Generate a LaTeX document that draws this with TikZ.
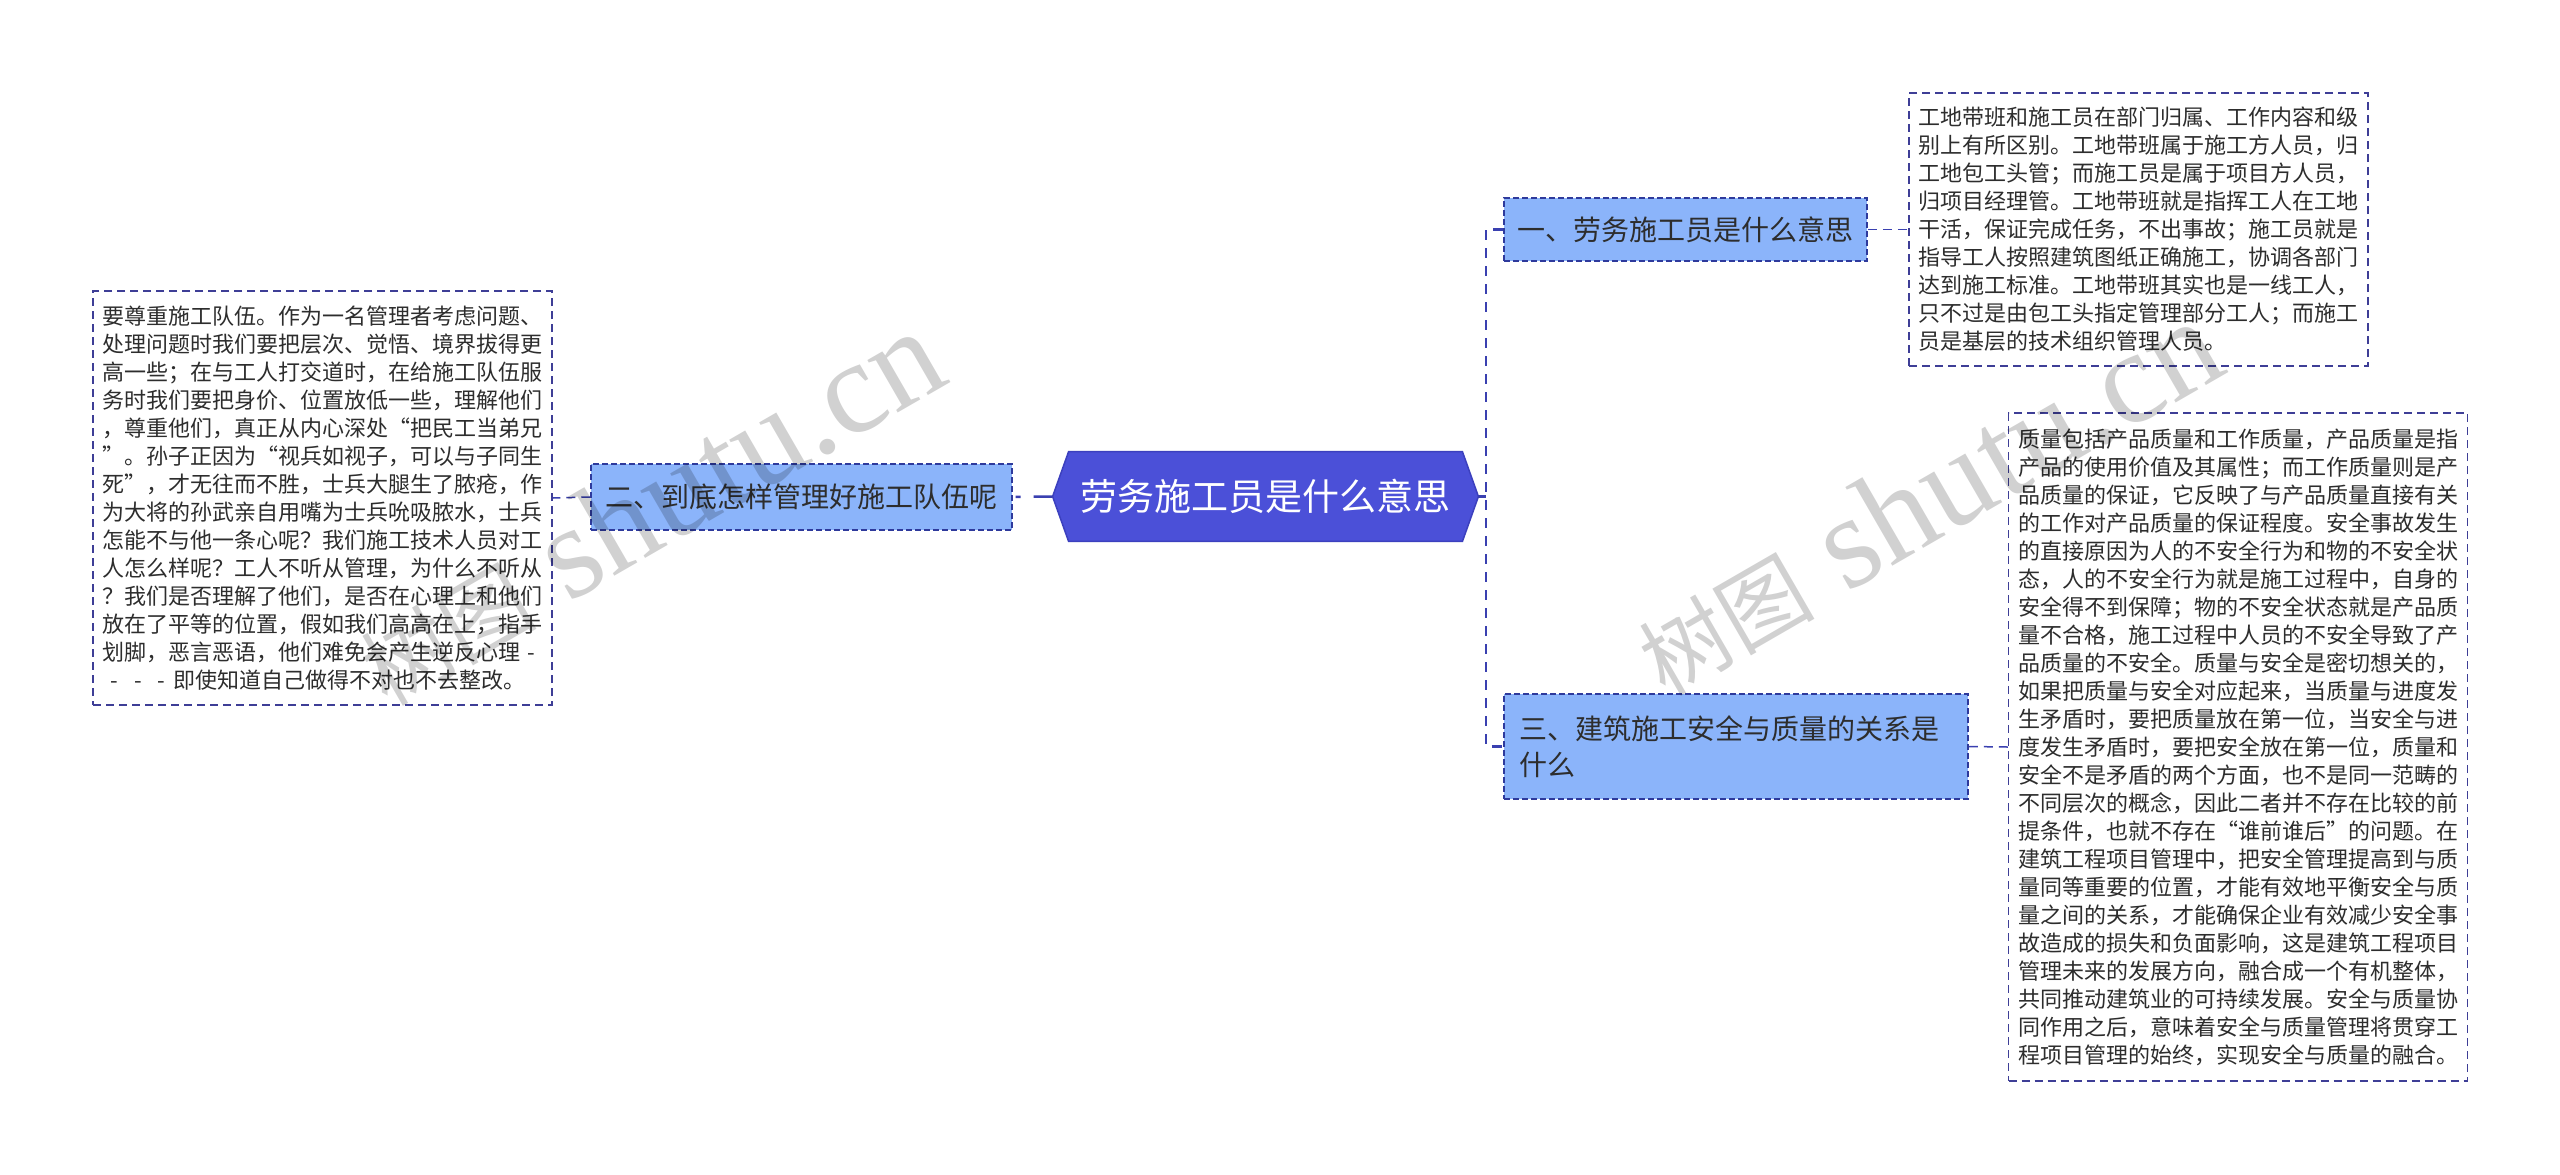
\documentclass[tikz,border=0pt]{standalone}
\usepackage{fontspec}
\setmainfont{Noto Sans CJK SC}
\newfontfamily\cjk{Noto Sans CJK SC}
\newfontfamily\wmserif{Liberation Serif}
\usetikzlibrary{backgrounds,calc}
\definecolor{centerfill}{RGB}{75,80,216}
\definecolor{centeredge}{RGB}{60,64,190}
\definecolor{branchfill}{RGB}{139,180,250}
\definecolor{branchedge}{RGB}{46,58,156}
\definecolor{boxedge}{RGB}{62,62,150}
\definecolor{lineblue}{RGB}{58,64,176}
\definecolor{txt}{RGB}{45,45,45}
\begin{document}
\begin{tikzpicture}[x=0.5pt,y=-0.5pt,
  textbox/.style={draw=boxedge, line width=0.75pt, dash pattern=on 4pt off 2.5pt,
    fill=white, text=txt, font=\fontsize{11pt}{14pt}\selectfont,
    text width=220pt, align=left, inner xsep=4.75pt, inner ysep=0pt},
  branchbox/.style={draw=branchedge, line width=0.75pt, dash pattern=on 3pt off 1.5pt,
    fill=branchfill, text=txt, font=\fontsize{14pt}{18pt}\selectfont, inner sep=0pt},
  centerbox/.style={text=white, font=\fontsize{18.5pt}{22pt}\selectfont,
    minimum width=212.5pt, minimum height=44.5pt, inner sep=0pt},
  spine/.style={draw=lineblue, line width=1.25pt, dash pattern=on 5pt off 4pt},
  leafline/.style={draw=lineblue, line width=0.75pt, dash pattern=on 4.5pt off 3pt},
  mainline/.style={draw=lineblue, line width=1.25pt},
  wm/.style={text=black, text opacity=0.18, inner sep=0pt}
]
\useasboundingbox (0,0) rectangle (2560,1174);

% central node
\node[centerbox] (c) at (1265.5,496.5) {劳务施工员是什么意思};

% branches
\node[branchbox, minimum width=210.5pt, minimum height=33pt] (b2) at (801.5,497) {二、到底怎样管理好施工队伍呢};
\node[branchbox, minimum width=181.5pt, minimum height=31.5pt] (b1) at (1685.5,229.5) {一、劳务施工员是什么意思};
\node[branchbox, text width=217pt, align=left, inner xsep=7.5pt, minimum height=52.5pt] (b3) at (1736,746.5) {三、建筑施工安全与质量的关系是\\什么};

% text boxes
\node[textbox, minimum height=207pt] (lb) at (322.5,498) {要尊重施工队伍。作为一名管理者考虑问题、\\处理问题时我们要把层次、觉悟、境界拔得更\\高一些；在与工人打交道时，在给施工队伍服\\务时我们要把身价、位置放低一些，理解他们\\，尊重他们，真正从内心深处“把民工当弟兄\\”。孙子正因为“视兵如视子，可以与子同生\\死”，才无往而不胜，士兵大腿生了脓疮，作\\为大将的孙武亲自用嘴为士兵吮吸脓水，士兵\\怎能不与他一条心呢？我们施工技术人员对工\\人怎么样呢？工人不听从管理，为什么不听从\\？我们是否理解了他们，是否在心理上和他们\\放在了平等的位置，假如我们高高在上，指手\\划脚，恶言恶语，他们难免会产生逆反心理 -\\\hspace*{4pt}-\hspace{8pt}-\hspace{8pt}-\hspace{4pt}即使知道自己做得不对也不去整改。};

\node[textbox, minimum height=136.5pt] (t1) at (2138.5,229.5) {工地带班和施工员在部门归属、工作内容和级\\别上有所区别。工地带班属于施工方人员，归\\工地包工头管；而施工员是属于项目方人员，\\归项目经理管。工地带班就是指挥工人在工地\\干活，保证完成任务，不出事故；施工员就是\\指导工人按照建筑图纸正确施工，协调各部门\\达到施工标准。工地带班其实也是一线工人，\\只不过是由包工头指定管理部分工人；而施工\\员是基层的技术组织管理人员。};

\node[textbox, minimum height=334pt] (t3) at (2238,747) {质量包括产品质量和工作质量，产品质量是指\\产品的使用价值及其属性；而工作质量则是产\\品质量的保证，它反映了与产品质量直接有关\\的工作对产品质量的保证程度。安全事故发生\\的直接原因为人的不安全行为和物的不安全状\\态，人的不安全行为就是施工过程中，自身的\\安全得不到保障；物的不安全状态就是产品质\\量不合格，施工过程中人员的不安全导致了产\\品质量的不安全。质量与安全是密切想关的，\\如果把质量与安全对应起来，当质量与进度发\\生矛盾时，要把质量放在第一位，当安全与进\\度发生矛盾时，要把安全放在第一位，质量和\\安全不是矛盾的两个方面，也不是同一范畴的\\不同层次的概念，因此二者并不存在比较的前\\提条件，也就不存在“谁前谁后”的问题。在\\建筑工程项目管理中，把安全管理提高到与质\\量同等重要的位置，才能有效地平衡安全与质\\量之间的关系，才能确保企业有效减少安全事\\故造成的损失和负面影响，这是建筑工程项目\\管理未来的发展方向，融合成一个有机整体，\\共同推动建筑业的可持续发展。安全与质量协\\同作用之后，意味着安全与质量管理将贯穿工\\程项目管理的始终，实现安全与质量的融合。};

% central hexagon on background
\begin{scope}[on background layer]
  \fill[white] (0,0) rectangle (2560,1174);
  \filldraw[fill=centerfill, draw=centeredge, line width=0.75pt]
    ($(c.north west)+(16,0)$) -- ($(c.north east)+(-16,0)$) -- (c.east)
    -- ($(c.south east)+(-16,0)$) -- ($(c.south west)+(16,0)$) -- (c.west) -- cycle;
\end{scope}

% connectors
\coordinate (jr) at (1486,496.5);
\draw[mainline] (c.east) -- (jr);
\draw[spine] (b1.west) -- (b1.west -| jr) -- (b3.west -| jr) -- (b3.west);
\draw[mainline, dash pattern=on 9.5pt off 6.5pt on 2.5pt off 5pt] (c.west) -- (b2.east);
\draw[leafline] (b2.west) -- (lb.east);
\draw[leafline] (b1.east) -- (t1.west);
\draw[leafline] (b3.east) -- (t3.west);

% watermarks
\node[wm, rotate=30, anchor=base west] (wm1) at (387,708) {{\cjk\fontsize{44pt}{44pt}\selectfont 树图}{\wmserif\fontsize{66pt}{66pt}\selectfont\ shutu.cn}};
\node[wm, rotate=30, anchor=base west] (wm2) at (1665,698) {{\cjk\fontsize{44pt}{44pt}\selectfont 树图}{\wmserif\fontsize{66pt}{66pt}\selectfont\ shutu.cn}};
\end{tikzpicture}
\end{document}
